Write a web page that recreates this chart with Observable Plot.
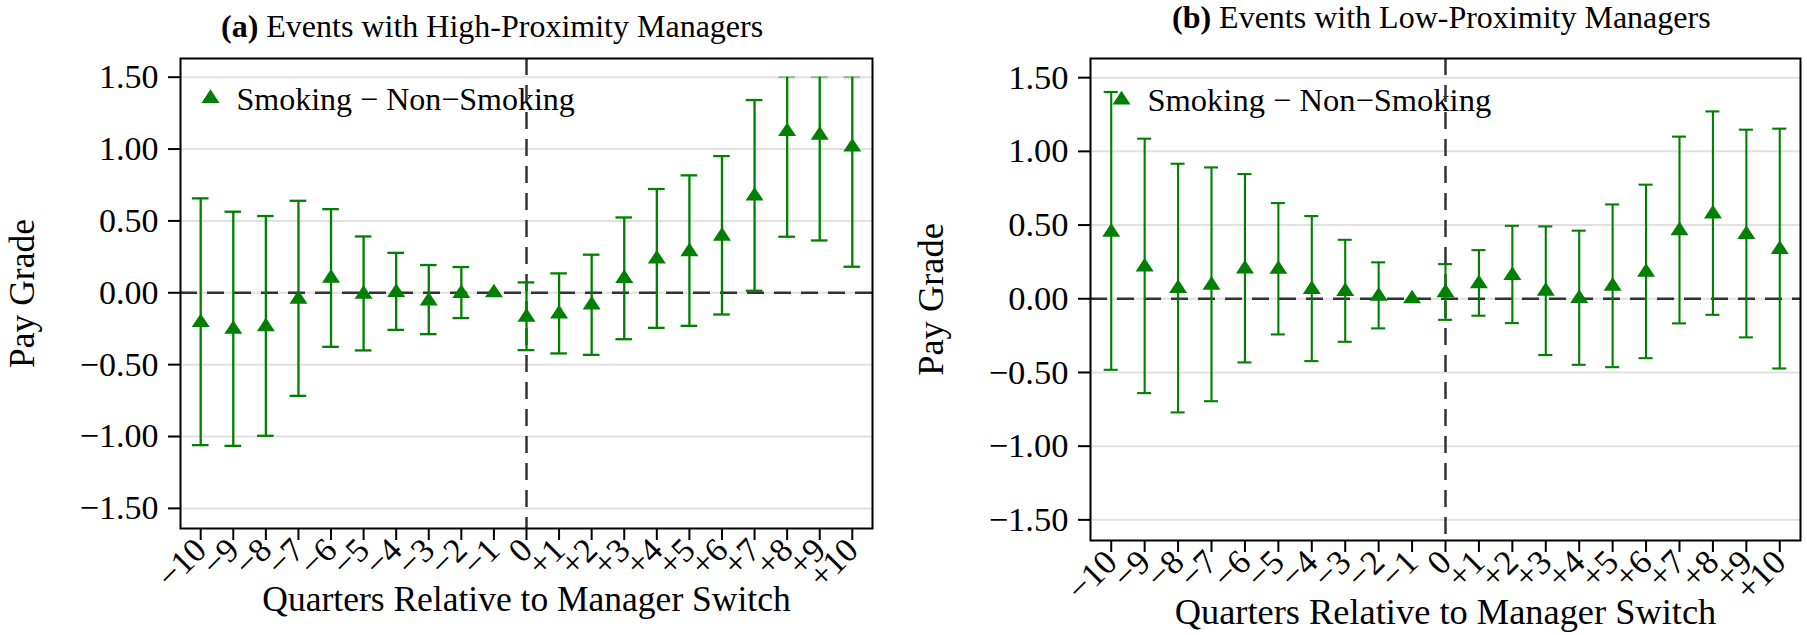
<!DOCTYPE html>
<html><head><meta charset="utf-8">
<script src="https://cdn.jsdelivr.net/npm/d3@7"></script>
<script src="https://cdn.jsdelivr.net/npm/@observablehq/plot@0.6"></script>
<style>
body{margin:0;background:#fff;}
#wrap{position:relative;width:1807px;height:635px;overflow:hidden;font-family:"Liberation Serif","Times New Roman",serif;background:#fff;}
.title{position:absolute;font-size:32px;line-height:32px;white-space:nowrap;color:#000;}
.panel{position:absolute;top:0;}
.panel svg, .panel svg text{font-family:"Liberation Serif","Times New Roman",serif !important;}
</style></head><body>
<div id="wrap">
 <div class="panel" id="pa" style="left:0px"></div>
 <div class="panel" id="pb" style="left:900px"></div>
 <div class="title" id="ta" style="left:221px;top:10px"></div>
 <div class="title" id="tb" style="left:1172px;top:1px"></div>
</div>
<script>
const quarters = [-10,-9,-8,-7,-6,-5,-4,-3,-2,-1,0,1,2,3,4,5,6,7,8,9,10];
const xLabels = ["−10","−9","−8","−7","−6","−5","−4","−3","−2","−1","0","+1","+2","+3","+4","+5","+6","+7","+8","+9","+10"];
const yTicks = [-1.5,-1,-0.5,0,0.5,1,1.5];

// Panel (a): high-proximity managers
const coefA = [-0.207,-0.254,-0.235,-0.045,0.102,-0.009,0.002,-0.056,-0.005,0,-0.169,-0.147,-0.085,0.100,0.235,0.286,0.394,0.673,1.122,1.096,1.014];
const lowA  = [-1.060,-1.065,-0.995,-0.717,-0.376,-0.401,-0.258,-0.288,-0.176,null,-0.399,-0.422,-0.432,-0.323,-0.244,-0.230,-0.151,0.014,0.390,0.364,0.181];
const highA = [0.657,0.564,0.534,0.640,0.582,0.392,0.278,0.193,0.179,null,0.072,0.135,0.265,0.524,0.722,0.817,0.951,1.341,1.5,1.5,1.5];

// Panel (b): low-proximity managers
const coefB = [0.452,0.216,0.070,0.092,0.203,0.200,0.064,0.050,0.017,0,0.041,0.103,0.158,0.052,0.003,0.086,0.181,0.462,0.575,0.437,0.335];
const lowB  = [-0.482,-0.640,-0.771,-0.695,-0.432,-0.242,-0.423,-0.292,-0.201,null,-0.143,-0.115,-0.165,-0.382,-0.448,-0.464,-0.403,-0.167,-0.109,-0.262,-0.473];
const highB = [1.403,1.086,0.916,0.891,0.846,0.649,0.561,0.400,0.247,null,0.235,0.330,0.495,0.491,0.462,0.640,0.774,1.100,1.271,1.147,1.154];

const titleA = ["(a)", " Events with High-Proximity Managers"];
const titleB = ["(b)", " Events with Low-Proximity Managers"];
const legendLabel = "Smoking − Non−Smoking";
const yLabel = "Pay Grade";
const xLabel = "Quarters Relative to Manager Switch";
const CLIP = 1.5;

const FONT = "Liberation Serif";
const green = "#008000";
const triangle = {
  draw(context, size) {
    const k = Math.sqrt(size / (Math.PI * 36));
    const h = 13.7 * k, w = 9 * k;
    context.moveTo(0, -2 * h / 3);
    context.lineTo(w, h / 3);
    context.lineTo(-w, h / 3);
    context.closePath();
  }
};

function panel(o) {
  const rows = quarters.map((q, i) => ({q, c: o.coef[i], lo: o.low[i], hi: o.high[i]}));
  const ci = rows.filter(d => d.lo != null);
  const dash = {stroke: "#333", strokeWidth: 2.5, strokeDasharray: "17 10"};
  const capX = {x1: d => d.q - o.cap, x2: d => d.q + o.cap, stroke: green, strokeWidth: o.sw};
  return Plot.plot({
    width: o.width, height: 635,
    marginLeft: o.ml, marginRight: o.mr, marginTop: o.mt, marginBottom: o.mb,
    style: {fontFamily: FONT, background: "white", overflow: "visible", color: "black"},
    x: {domain: [-10.62, 10.62], label: null},
    y: {domain: [-1.64, 1.63], label: null},
    marks: [
      Plot.gridY(yTicks, {stroke: "#e0e0e0", strokeOpacity: 1, strokeWidth: 2}),
      Plot.ruleY([0], dash),
      Plot.text([legendLabel], {frameAnchor: "top-left", dx: o.legTx, dy: o.legTy, textAnchor: "start", lineAnchor: "bottom", fontSize: o.legFs, fontFamily: FONT, fill: "black"}),
      Plot.ruleX([0], dash),
      Plot.ruleX(ci, {x: "q", y1: "lo", y2: "hi", stroke: green, strokeWidth: o.sw}),
      Plot.ruleY(ci, {y: "lo", ...capX}),
      Plot.ruleY(ci.filter(d => d.hi < CLIP), {y: "hi", ...capX}),
      Plot.ruleY(ci.filter(d => d.hi >= CLIP), {y: "hi", ...capX, strokeOpacity: 0.35}),
      Plot.dot(rows, {x: "q", y: "c", symbol: triangle, r: 6, fill: green, stroke: "none"}),
      Plot.dot([legendLabel], {frameAnchor: "top-left", dx: o.legMx, dy: o.legMy, symbol: triangle, r: 6, fill: green, stroke: "none"}),
      Plot.axisX({ticks: quarters, tickFormat: d => xLabels[quarters.indexOf(d)], tickRotate: -45, tickSize: 12, tickPadding: o.xPad, fontSize: o.tickFs, fontFamily: FONT, strokeWidth: 2, label: null}),
      Plot.axisY({ticks: yTicks, tickFormat: d3.format(".2f"), tickSize: 12, tickPadding: 10, fontSize: o.tickFs, fontFamily: FONT, strokeWidth: 2, label: null}),
      Plot.text([yLabel], {frameAnchor: "left", dx: o.yLx, rotate: -90, textAnchor: "middle", lineAnchor: "bottom", fontSize: o.labFs, fontFamily: FONT, fill: "black"}),
      Plot.text([xLabel], {frameAnchor: "bottom", dy: o.xLy, textAnchor: "middle", lineAnchor: "bottom", fontSize: o.labFs, fontFamily: FONT, fill: "black"}),
      Plot.frame({stroke: "black", strokeWidth: 2})
    ]
  });
}

document.getElementById("pa").append(panel({
  coef: coefA, low: lowA, high: highA,
  width: 900, ml: 180, mr: 28, mt: 58, mb: 107,
  cap: 0.255, sw: 2.3, tickFs: 34, labFs: 35.5, legFs: 32, xPad: 4,
  legTx: 56, legTy: 51, legMx: 30, legMy: 40, yLx: -147, xLy: 82
}));
document.getElementById("pb").append(panel({
  coef: coefB, low: lowB, high: highB,
  width: 907, ml: 190, mr: 7, mt: 58, mb: 95,
  cap: 0.21, sw: 2.1, tickFs: 34.5, labFs: 36.4, legFs: 32.5, xPad: 4,
  legTx: 57, legTy: 52, legMx: 31, legMy: 41.5, yLx: -148, xLy: 83
}));

function setTitle(id, parts) {
  const el = document.getElementById(id);
  const b = document.createElement("b"); b.textContent = parts[0];
  el.append(b, document.createTextNode(parts[1]));
}
setTitle("ta", titleA);
setTitle("tb", titleB);
</script>
</body></html>
